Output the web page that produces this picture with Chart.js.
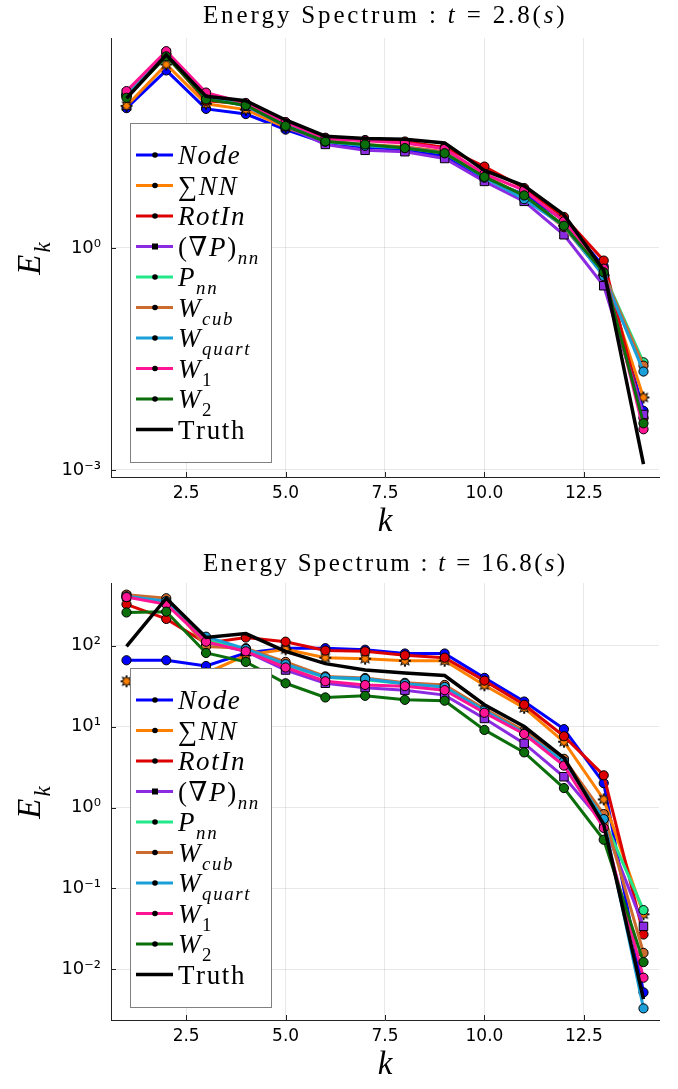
<!DOCTYPE html>
<html><head><meta charset="utf-8">
<script src="https://cdn.jsdelivr.net/npm/chart.js@4"></script>
<style>html,body{margin:0;padding:0;background:#fff;} canvas{display:block;}</style>
</head><body>
<canvas id="c1" width="678" height="544"></canvas>
<canvas id="c2" width="678" height="545"></canvas>
<script>
// ---------- data ----------
const kValues = [1,2,3,4,5,6,7,8,9,10,11,12,13,14];
const seriesNames = ['Node','∑NN','RotIn','(∇P)nn','Pnn','Wcub','Wquart','W1','W2','Truth'];
const xTickValues = [2.5, 5.0, 7.5, 10.0, 12.5];
const topYTicks = [1, 0.001];
const botYTicks = [100, 10, 1, 0.1, 0.01];
const topTitle = 'Energy Spectrum : t = 2.8(s)';
const botTitle = 'Energy Spectrum : t = 16.8(s)';

const topNode   = [77.6, 251, 75.9, 64.6, 39.8, 26.3, 22.9, 21.4, 17.4, 8.71, 5.25, 2.40, 0.562, 0.0063];
const topSumNN  = [83.2, 302, 89.1, 74.1, 42.7, 27.5, 24.5, 22.9, 19.1, 9.33, 5.01, 2.00, 0.427, 0.00955];
const topRotIn  = [112, 398, 97.7, 89.1, 50.1, 30.9, 28.8, 27.5, 22.9, 12.6, 6.46, 2.63, 0.676, 0.00501];
const topGradP  = [123, 427, 110, 83.2, 44.7, 25.1, 20.9, 20.0, 16.2, 7.94, 4.27, 1.51, 0.309, 0.00562];
const topPnn    = [117, 417, 112, 87.1, 46.8, 27.5, 24.5, 22.9, 19.5, 9.33, 5.01, 2.00, 0.447, 0.0285];
const topWcub   = [120, 417, 107, 85.1, 46.8, 28.2, 25.1, 23.4, 20.0, 9.55, 5.01, 1.91, 0.437, 0.0257];
const topWquart = [115, 407, 110, 83.2, 45.7, 27.5, 24.0, 22.4, 19.1, 8.91, 4.57, 2.00, 0.417, 0.0214];
const topW1     = [132, 457, 126, 91.2, 50.1, 30.2, 28.2, 26.3, 21.9, 10.0, 6.03, 2.29, 0.525, 0.00355];
const topW2     = [107, 389, 102, 85.1, 44.7, 27.5, 25.1, 22.4, 19.1, 9.12, 5.13, 2.00, 0.468, 0.00427];
const topTruth  = [105, 407, 112, 97.7, 53.7, 32.4, 30.2, 29.5, 26.3, 11.2, 6.92, 2.82, 0.501, 0.0012];

const botNode   = [66, 66, 56, 81, 93, 93, 89, 80, 80, 40, 20.4, 9.3, 2.0, 0.0052];
const botSumNN  = [36.3, 41.7, 45.7, 76, 90, 71, 69, 65, 65, 32.4, 17.0, 6.5, 1.26, 0.048];
const botRotIn  = [324, 214, 107, 126, 112, 87, 85, 76, 71, 37, 18.6, 7.6, 2.5, 0.027];
const botGradP  = [407, 347, 110, 85, 50, 34.3, 30.2, 28.2, 24.5, 12.6, 6.2, 2.4, 0.63, 0.034];
const botPnn    = [398, 347, 117, 89, 57.5, 40.7, 38, 33.9, 30.9, 16.2, 8.3, 3.8, 0.72, 0.054];
const botWcub   = [427, 385, 97.7, 93, 63, 41.7, 39.8, 34.7, 32.7, 16.6, 8.9, 4.0, 0.83, 0.016];
const botWquart = [407, 355, 129, 91, 59, 40.7, 38.9, 33.9, 30.9, 15.8, 8.3, 3.7, 0.72, 0.0033];
const botW1     = [398, 324, 112, 85, 53.7, 36.3, 32.7, 31.6, 28.2, 14.8, 8.1, 3.3, 0.56, 0.0079];
const botW2     = [257, 263, 81.3, 63, 34.3, 22.9, 24, 21.4, 20.9, 9.1, 4.8, 1.74, 0.40, 0.0123];
const botTruth  = [97.7, 385, 126, 141, 85, 60, 50, 46, 42.7, 18.6, 10, 4.1, 0.62, 0.0043];

// ---------- styles ----------
const colors = ['#0000ff','#ff8000','#dc0000','#8a2be2','#22e88a','#cd6a2e','#1b9fd8','#ff1493','#0b6e0b','#000000'];
const SERIF = '"Liberation Serif", "DejaVu Serif", serif';
const SANS = '"DejaVu Sans", sans-serif';

const legendRuns = [
  [{t:'Node', it:1}],
  [{t:'∑', it:0}, {t:'NN', it:1}],
  [{t:'RotIn', it:1}],
  [{t:'(∇', it:0}, {t:'P', it:1}, {t:')', it:0}, {t:'nn', it:1, sub:1}],
  [{t:'P', it:1}, {t:'nn', it:1, sub:1}],
  [{t:'W', it:1}, {t:'cub', it:1, sub:1}],
  [{t:'W', it:1}, {t:'quart', it:1, sub:1}],
  [{t:'W', it:1}, {t:'1', it:0, sub:1}],
  [{t:'W', it:1}, {t:'2', it:0, sub:1}],
  [{t:'Truth', it:0}]
];

function starImg(color){
  const c = document.createElement('canvas'); c.width = c.height = 14;
  const g = c.getContext('2d'); g.translate(7,7);
  g.beginPath();
  const n = 8, R = 6, r = 3;
  for (let i = 0; i < 2*n; i++) {
    const ang = i*Math.PI/n - Math.PI/2, rr = (i%2) ? r : R;
    g.lineTo(rr*Math.cos(ang), rr*Math.sin(ang));
  }
  g.closePath(); g.fillStyle = color; g.fill();
  g.strokeStyle = '#000'; g.lineWidth = 1; g.stroke();
  return c;
}
const starMarker = starImg(colors[1]);

function fontFor(r, size){
  const s = r.sub ? size*0.7 : size;
  return (r.it ? 'italic ' : '') + s + 'px ' + SERIF;
}
function runsWidth(ctx, runs, size, ls){
  let w = 0;
  for (const r of runs){ ctx.font = fontFor(r, size); w += ctx.measureText(r.t).width + ls * r.t.length; }
  return w;
}
function drawRuns(ctx, runs, x, baseline, size, align, ls){
  ls = ls || 0;
  const w = runsWidth(ctx, runs, size, ls);
  let cx = align === 'center' ? x - w/2 : x;
  ctx.textAlign = 'left'; ctx.textBaseline = 'alphabetic'; ctx.fillStyle = '#000';
  for (const r of runs){
    ctx.font = fontFor(r, size);
    for (const ch of r.t){
      ctx.fillText(ch, cx, baseline + (r.sub ? size*0.3 : 0));
      cx += ctx.measureText(ch).width + ls;
    }
  }
}
function titleRuns(str){
  const m = str.match(/^(.*) : t = ([0-9.]+\()s(\))$/);
  return [{t:m[1],it:0},{t:' : ',it:0},{t:'t',it:1},{t:' = ',it:0},{t:m[2],it:0},{t:'s',it:1},{t:m[3],it:0}];
}
const supMap = {'-':'⁻','0':'⁰','1':'¹','2':'²','3':'³','4':'⁴'};
function powLabel(v){
  const e = Math.round(Math.log10(v));
  return '10' + String(e).split('').map(c => supMap[c]).join('');
}

function decoPlugin(title, titleY){
  return {
    id: 'deco',
    afterDraw(chart){
      const ctx = chart.ctx, a = chart.chartArea;
      ctx.save();
      // inner tick marks
      ctx.strokeStyle = '#222'; ctx.lineWidth = 1;
      for (const t of chart.scales.x.ticks){
        const px = Math.round(chart.scales.x.getPixelForValue(t.value)) + 0.5;
        ctx.beginPath(); ctx.moveTo(px, a.bottom); ctx.lineTo(px, a.bottom - 5); ctx.stroke();
      }
      for (const t of chart.scales.y.ticks){
        const py = Math.round(chart.scales.y.getPixelForValue(t.value)) + 0.5;
        ctx.beginPath(); ctx.moveTo(a.left, py); ctx.lineTo(a.left + 5, py); ctx.stroke();
      }
      // legend
      const bx = a.left + 19, by = a.top + 85, bw = 141, bh = 339;
      ctx.fillStyle = '#fff'; ctx.fillRect(bx, by, bw, bh);
      ctx.strokeStyle = '#808080'; ctx.lineWidth = 1;
      ctx.strokeRect(bx + 0.5, by + 0.5, bw, bh);
      for (let i = 0; i < seriesNames.length; i++){
        const cy = by + 32 + i*30.5;
        ctx.strokeStyle = colors[i]; ctx.lineWidth = i === 9 ? 3.5 : 3;
        ctx.beginPath(); ctx.moveTo(bx + 6, cy); ctx.lineTo(bx + 43, cy); ctx.stroke();
        if (i !== 9){
          ctx.fillStyle = '#000';
          if (i === 3){ ctx.fillRect(bx + 22, cy - 3, 6, 6); }
          else { ctx.beginPath(); ctx.arc(bx + 25, cy, 2.8, 0, Math.PI*2); ctx.fill(); }
        }
        drawRuns(ctx, legendRuns[i], bx + 48, cy + 9, 27, 'left', 1.6);
      }
      // title, letter-spaced to mimic the wide Computer Modern face
      const tr = titleRuns(title);
      const tsize = 25;
      const nch = tr.reduce((s, r) => s + r.t.length, 0);
      const w0 = runsWidth(ctx, tr, tsize, 0);
      const ls = Math.max(0, (364 - w0) / nch);
      drawRuns(ctx, tr, (a.left + a.right)/2, titleY, tsize, 'center', ls);
      // x label
      drawRuns(ctx, [{t:'k', it:1}], (a.left + a.right)/2, a.bottom + 54, 33, 'center');
      // y label
      ctx.save();
      ctx.translate(40, (a.top + a.bottom)/2);
      ctx.rotate(-Math.PI/2);
      drawRuns(ctx, [{t:'E', it:1}, {t:'k', it:1, sub:1}], 0, 0, 33, 'center', 2);
      ctx.restore();
      ctx.restore();
    }
  };
}

function makeChart(id, arrays, yTicks, yMinExp, yMaxExp, topPad, xHeight, title, titleY){
  const datasets = arrays.map((arr, i) => ({
    label: seriesNames[i],
    data: arr.map((v, j) => ({x: kValues[j], y: v})),
    borderColor: colors[i],
    backgroundColor: colors[i],
    borderWidth: i === 9 ? 3.5 : 3,
    pointRadius: i === 9 ? 0 : (i === 3 ? 6 : 4.6),
    pointStyle: i === 1 ? starMarker : (i === 3 ? 'rect' : 'circle'),
    pointBackgroundColor: colors[i],
    pointBorderColor: '#000',
    pointBorderWidth: 1,
    tension: 0,
    order: arrays.length - i
  }));
  return new Chart(document.getElementById(id), {
    type: 'line',
    data: { datasets },
    options: {
      responsive: false,
      animation: false,
      layout: { padding: { top: topPad, right: 19, left: 0, bottom: 0 } },
      plugins: { legend: { display: false }, tooltip: { enabled: false }, title: { display: false } },
      scales: {
        x: {
          type: 'linear', min: 0.61, max: 14.39,
          afterBuildTicks: s => { s.ticks = xTickValues.map(v => ({value: v})); },
          afterFit: s => { s.height = xHeight; },
          ticks: { callback: v => Number(v).toFixed(1), font: {family: SANS, size: 17}, color: '#000', maxRotation: 0, autoSkip: false, padding: 6 },
          grid: { color: 'rgba(0,0,0,0.09)', lineWidth: 1, drawTicks: false },
          border: { color: '#222', width: 1 }
        },
        y: {
          type: 'logarithmic', min: Math.pow(10, yMinExp), max: Math.pow(10, yMaxExp),
          afterBuildTicks: s => { s.ticks = yTicks.map(v => ({value: v})); },
          afterFit: s => { s.width = 111; },
          ticks: { callback: v => powLabel(v), font: {family: SANS, size: 18}, color: '#000', autoSkip: false, padding: 10 },
          grid: { color: 'rgba(0,0,0,0.09)', lineWidth: 1, drawTicks: false },
          border: { color: '#222', width: 1 }
        }
      }
    },
    plugins: [decoPlugin(title, titleY)]
  });
}

makeChart('c1',
  [topNode, topSumNN, topRotIn, topGradP, topPnn, topWcub, topWquart, topW1, topW2, topTruth],
  topYTicks, -3.095, 2.838, 38, 544 - 477, topTitle, 23);
makeChart('c2',
  [botNode, botSumNN, botRotIn, botGradP, botPnn, botWcub, botWquart, botW1, botW2, botTruth],
  botYTicks, -2.625, 2.774, 39, 545 - 476, botTitle, 27);
</script>
</body></html>
